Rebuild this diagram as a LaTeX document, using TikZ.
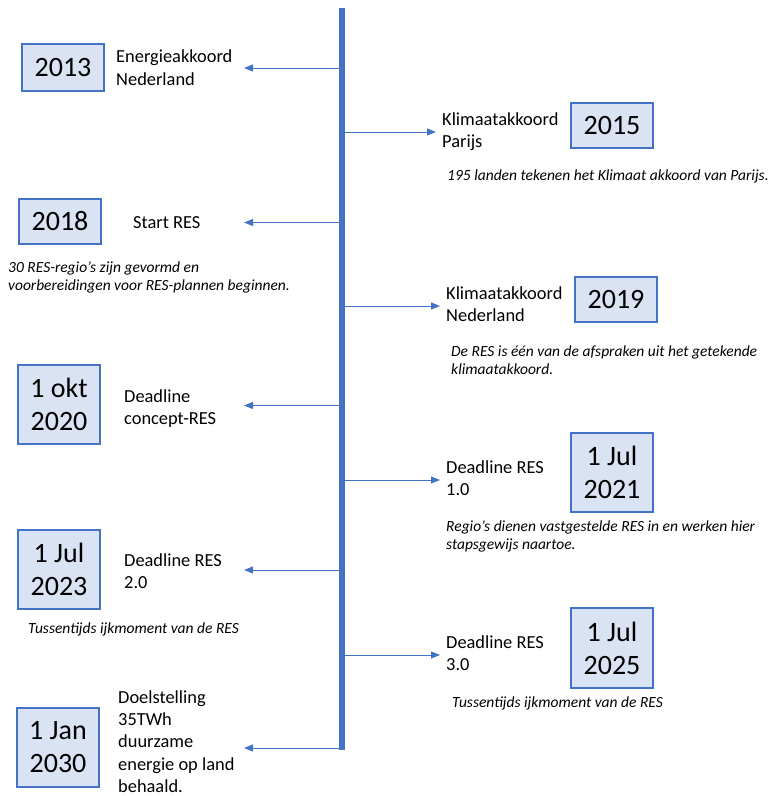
\documentclass[tikz,border=0pt]{standalone}
\usepackage{fontspec}
\setmainfont{Carlito}
\usetikzlibrary{arrows.meta}
\definecolor{accent}{HTML}{4472C4}
\definecolor{boxfill}{HTML}{DAE3F3}

\begin{document}
\begin{tikzpicture}[x=1pt,y=-1pt,
  yearbox/.style={draw=accent, line width=1.3pt, fill=boxfill,
    font=\fontsize{28}{33}\selectfont, align=center, inner sep=0pt,
    minimum width=82pt},
  % multi-line nodes sit on the baseline of their last line
  event/.style={anchor=base west, inner sep=0pt, align=left,
    font=\fontsize{18.4}{22.3}\selectfont},
  note/.style={anchor=base west, inner sep=0pt, align=left,
    font=\fontsize{15.5}{18}\selectfont\itshape},
  link/.style={accent, line width=0.9pt, -{Triangle[length=9pt,width=7pt]}}
]
\useasboundingbox (0,0) rectangle (770,796);

% timeline spine
\coordinate (top) at (341.5,8);
\coordinate (bottom) at (341.5,750);

% branch points on the spine and free arrow ends
\foreach \n/\y/\x in {b13/68/244, b18/222.5/244, b20/405.5/244, b23/570/244, b30/748/244,
                       b15/132/436, b19/306/440, b21/480/440, b25/655/440}{
  \coordinate (\n) at (341.5,\y);
  \coordinate (\n e) at (\x,\y);
}
\foreach \n in {b13,b18,b20,b23,b30,b15,b19,b21,b25}
  \draw[link] (\n) -- (\n e);

\draw[accent, line width=6pt] (top) -- (bottom);

% year boxes
\node[yearbox, minimum height=47pt] (y13) at (63,67.5) {2013};
\node[yearbox, minimum height=45pt] (y15) at (612,125.5) {2015};
\node[yearbox, minimum height=45pt] (y18) at (60,221.5) {2018};
\node[yearbox, minimum height=45pt] (y19) at (616,299.5) {2019};
\node[yearbox, minimum height=79pt] (y20) at (59,404.5) {1 okt\\2020};
\node[yearbox, minimum height=79pt] (y21) at (612,472.5) {1 Jul\\2021};
\node[yearbox, minimum height=79pt] (y23) at (59,569.5) {1 Jul\\2023};
\node[yearbox, minimum height=80pt] (y25) at (612,648) {1 Jul\\2025};
\node[yearbox, minimum height=79pt] (y30) at (58,747.5) {1 Jan\\2030};

% event labels
\node[event] (e13) at (116,85) {Energieakkoord\\Nederland};
\node[event] (e15) at (442,147.8) {Klimaatakkoord\\Parijs};
\node[event] (e18) at (133,228.5) {Start RES};
\node[event] (e19) at (446,321.8) {Klimaatakkoord\\Nederland};
\node[event] (e20) at (124,424.8) {Deadline\\concept-RES};
\node[event] (e21) at (446,495.8) {Deadline RES\\1.0};
\node[event] (e23) at (124,588.8) {Deadline RES\\2.0};
\node[event] (e25) at (446,670.8) {Deadline RES\\3.0};
\node[event] (e30) at (118,792.5) {Doelstelling\\35TWh\\duurzame\\energie op land\\behaald.};

% notes
\node[note] (n15) at (447,180) {195 landen tekenen het Klimaat akkoord van Parijs.};
\node[note] (n18) at (8,290) {30 RES-regio’s zijn gevormd en\\voorbereidingen voor RES-plannen beginnen.};
\node[note] (n19) at (451,374) {De RES is één van de afspraken uit het getekende\\klimaatakkoord.};
\node[note] (n21) at (446,549.7) {Regio’s dienen vastgestelde RES in en werken hier\\stapsgewijs naartoe.};
\node[note] (n23) at (28,633) {Tussentijds ijkmoment van de RES};
\node[note] (n25) at (452,707.3) {Tussentijds ijkmoment van de RES};
\end{tikzpicture}
\end{document}
